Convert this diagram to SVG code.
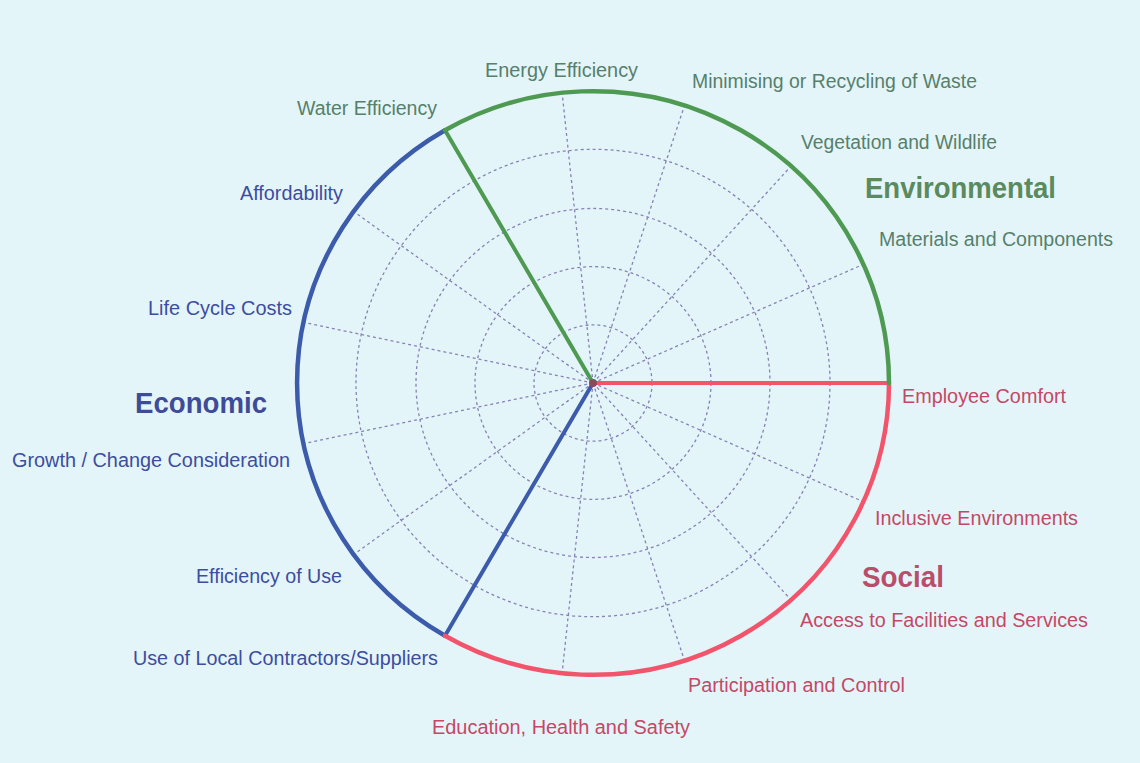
<svg xmlns="http://www.w3.org/2000/svg" width="1140" height="763" viewBox="0 0 1140 763">
<style>
.bg{fill:#e4f5fa}
.ring{fill:none;stroke:#8682b6;stroke-width:1.3;stroke-dasharray:3 3}
.spoke{stroke:#8682b6;stroke-width:1.3;stroke-dasharray:3 3;fill:none}
.arc{fill:none;stroke-width:4.5;stroke-linecap:round}
.bnd{stroke-width:4;stroke-linecap:round}
.g{stroke:#4f9a52}
.r{stroke:#f2546c}
.b{stroke:#3c5cab}
text{font-family:"Liberation Sans",Arial,sans-serif;font-size:20px}
.tg{fill:#56806a}
.tr{fill:#c44866}
.tb{fill:#3d4d9f}
.h{font-weight:bold;font-size:29px}
.hg{fill:#5a8a5e}
.hr{fill:#b84e6a}
.hb{fill:#3e4c98}
</style>
<rect class="bg" x="0" y="0" width="1140" height="763"/>
<g id="chart" transform="translate(593,383) scale(1,0.986)">
  <g id="rings">
    <circle class="ring" cx="0" cy="0" r="59"/>
    <circle class="ring" cx="0" cy="0" r="118"/>
    <circle class="ring" cx="0" cy="0" r="177"/>
    <circle class="ring" cx="0" cy="0" r="237"/>
  </g>
  <g id="connectors">
    <line class="spoke" x1="0" y1="0" x2="270.4" y2="-120.4"/>
    <line class="spoke" x1="0" y1="0" x2="198.1" y2="-220"/>
    <line class="spoke" x1="0" y1="0" x2="91.5" y2="-281.5"/>
    <line class="spoke" x1="0" y1="0" x2="-30.9" y2="-294.4"/>
    <line class="spoke" x1="0" y1="0" x2="-239.5" y2="-174"/>
    <line class="spoke" x1="0" y1="0" x2="-289.5" y2="-61.5"/>
    <line class="spoke" x1="0" y1="0" x2="-289.5" y2="61.5"/>
    <line class="spoke" x1="0" y1="0" x2="-239.5" y2="174"/>
    <line class="spoke" x1="0" y1="0" x2="-30.9" y2="294.4"/>
    <line class="spoke" x1="0" y1="0" x2="91.5" y2="281.5"/>
    <line class="spoke" x1="0" y1="0" x2="198.1" y2="220"/>
    <line class="spoke" x1="0" y1="0" x2="270.4" y2="120.4"/>
    <line class="bnd g" x1="0" y1="0" x2="-148" y2="-256.3"/>
    <line class="bnd b" x1="0" y1="0" x2="-148" y2="256.3"/>
    <line class="bnd r" x1="0" y1="0" x2="296" y2="0"/>
  </g>
  <g id="arcs">
    <path class="arc b" d="M -148 -256.3 A 296 296 0 0 0 -148 256.3"/>
    <path class="arc r" d="M 296 0 A 296 296 0 0 1 -148 256.3"/>
    <path class="arc g" d="M 296 0 A 296 296 0 0 0 -148 -256.3"/>
  </g>
  <circle id="center" cx="0" cy="0" r="4" fill="#8a4a5a"/>
</g>
<g id="environmental">
  <g id="n-energy"><text class="tg" x="485" y="77" textLength="153" lengthAdjust="spacingAndGlyphs">Energy Efficiency</text></g>
  <g id="n-waste"><text class="tg" x="692" y="88" textLength="285" lengthAdjust="spacingAndGlyphs">Minimising or Recycling of Waste</text></g>
  <g id="n-water"><text class="tg" x="297" y="115" textLength="140" lengthAdjust="spacingAndGlyphs">Water Efficiency</text></g>
  <g id="n-veg"><text class="tg" x="801" y="149" textLength="196" lengthAdjust="spacingAndGlyphs">Vegetation and Wildlife</text></g>
  <g id="h-env"><text class="h hg" x="865" y="198" textLength="191" lengthAdjust="spacingAndGlyphs">Environmental</text></g>
  <g id="n-mat"><text class="tg" x="879" y="246" textLength="234" lengthAdjust="spacingAndGlyphs">Materials and Components</text></g>
</g>
<g id="economic">
  <g id="n-afford"><text class="tb" x="240" y="200" textLength="103" lengthAdjust="spacingAndGlyphs">Affordability</text></g>
  <g id="n-life"><text class="tb" x="148" y="315" textLength="144" lengthAdjust="spacingAndGlyphs">Life Cycle Costs</text></g>
  <g id="h-eco"><text class="h hb" x="135" y="413" textLength="132" lengthAdjust="spacingAndGlyphs">Economic</text></g>
  <g id="n-growth"><text class="tb" x="12" y="467" textLength="278" lengthAdjust="spacingAndGlyphs">Growth / Change Consideration</text></g>
  <g id="n-effuse"><text class="tb" x="196" y="583" textLength="146" lengthAdjust="spacingAndGlyphs">Efficiency of Use</text></g>
  <g id="n-local"><text class="tb" x="133" y="665" textLength="305" lengthAdjust="spacingAndGlyphs">Use of Local Contractors/Suppliers</text></g>
</g>
<g id="social">
  <g id="n-comfort"><text class="tr" x="902" y="403" textLength="164" lengthAdjust="spacingAndGlyphs">Employee Comfort</text></g>
  <g id="n-inclusive"><text class="tr" x="875" y="525" textLength="203" lengthAdjust="spacingAndGlyphs">Inclusive Environments</text></g>
  <g id="h-soc"><text class="h hr" x="862" y="587" textLength="82" lengthAdjust="spacingAndGlyphs">Social</text></g>
  <g id="n-access"><text class="tr" x="800" y="627" textLength="288" lengthAdjust="spacingAndGlyphs">Access to Facilities and Services</text></g>
  <g id="n-part"><text class="tr" x="688" y="692" textLength="217" lengthAdjust="spacingAndGlyphs">Participation and Control</text></g>
  <g id="n-edu"><text class="tr" x="432" y="734" textLength="258" lengthAdjust="spacingAndGlyphs">Education, Health and Safety</text></g>
</g>
</svg>
